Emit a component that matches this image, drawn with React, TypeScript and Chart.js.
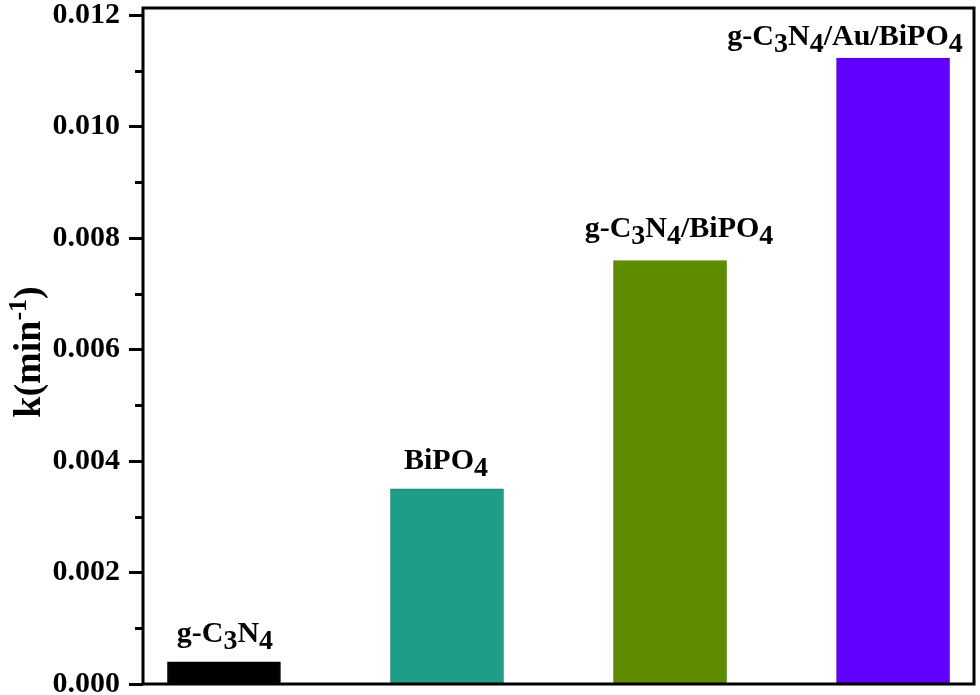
import React, { useEffect, useRef } from "react";
import { Chart, registerables } from "chart.js";

Chart.register(...registerables);

const categories = ["g-C3N4", "BiPO4", "g-C3N4/BiPO4", "g-C3N4/Au/BiPO4"];
const kValues = [0.0004, 0.0035, 0.0076, 0.01123];
const barPositions = [1, 2, 3, 4];
const yTickValues = [0, 0.002, 0.004, 0.006, 0.008, 0.01, 0.012];
const yMinorValues = [0.001, 0.003, 0.005, 0.007, 0.009, 0.011];
const yTitleMain = "k(min";
const yTitleSup = "-1";
const yTitleEnd = ")";

const barColors = ["#000000", "#1e9e86", "#5e8b00", "#6000ff"];
const barBorders = ["#000000", "#17806c", "#4f7500", "#4d00cc"];
const labelDx = [1, -1, 9, -48];
const labelDy = [20, 20, 23, 13];

const FONT = "'Liberation Serif', 'Times New Roman', serif";

function parseFormula(s: string) {
  const segs: { t: string; sub: boolean }[] = [];
  for (const ch of s) {
    const sub = /[0-9]/.test(ch);
    const last = segs[segs.length - 1];
    if (last && last.sub === sub) last.t += ch;
    else segs.push({ t: ch, sub });
  }
  return segs;
}

const decorPlugin = {
  id: "decor",
  afterDraw(chart: any) {
    const ctx = chart.ctx;
    const ca = chart.chartArea;
    const y = chart.scales.y;
    ctx.save();
    // frame
    ctx.strokeStyle = "#000";
    ctx.lineWidth = 3;
    ctx.strokeRect(ca.left, ca.top, ca.right - ca.left, ca.bottom - ca.top);
    // minor ticks
    for (const v of yMinorValues) {
      const py = Math.round(y.getPixelForValue(v)) + 0.5;
      ctx.beginPath();
      ctx.moveTo(ca.left - 8, py);
      ctx.lineTo(ca.left, py);
      ctx.stroke();
    }
    // bar labels
    const meta = chart.getDatasetMeta(0);
    const mainSize = 30;
    const subSize = 28;
    ctx.fillStyle = "#000";
    ctx.textBaseline = "alphabetic";
    ctx.textAlign = "left";
    meta.data.forEach((bar: any, i: number) => {
      const segs = parseFormula(categories[i]);
      let total = 0;
      const widths = segs.map((s) => {
        ctx.font = `bold ${s.sub ? subSize : mainSize}px ${FONT}`;
        const w = ctx.measureText(s.t).width;
        total += w;
        return w;
      });
      let x = bar.x + labelDx[i] - total / 2;
      const base = bar.y - labelDy[i];
      segs.forEach((s, j) => {
        ctx.font = `bold ${s.sub ? subSize : mainSize}px ${FONT}`;
        ctx.fillText(s.t, x, s.sub ? base + 7 : base);
        x += widths[j];
      });
    });
    // y title
    ctx.translate(40, 352);
    ctx.rotate(-Math.PI / 2);
    const mSize = 38;
    const sSize = 26;
    ctx.font = `bold ${mSize}px ${FONT}`;
    const w1 = ctx.measureText(yTitleMain).width;
    const w3 = ctx.measureText(yTitleEnd).width;
    ctx.font = `bold ${sSize}px ${FONT}`;
    const w2 = ctx.measureText(yTitleSup).width;
    let tx = -(w1 + w2 + w3) / 2;
    ctx.font = `bold ${mSize}px ${FONT}`;
    ctx.fillText(yTitleMain, tx, 0);
    tx += w1;
    ctx.font = `bold ${sSize}px ${FONT}`;
    ctx.fillText(yTitleSup, tx, -14);
    tx += w2;
    ctx.font = `bold ${mSize}px ${FONT}`;
    ctx.fillText(yTitleEnd, tx, 0);
    ctx.restore();
  },
};

export default function App() {
  const ref = useRef<HTMLCanvasElement | null>(null);
  useEffect(() => {
    document.body.style.margin = "0";
    const canvas = ref.current;
    if (!canvas) return;
    const chart = new Chart(canvas, {
      type: "bar",
      data: {
        datasets: [
          {
            data: barPositions.map((x, i) => ({ x, y: kValues[i] })),
            backgroundColor: barColors,
            borderColor: barBorders,
            borderWidth: 1,
            barThickness: 113,
          } as any,
        ],
      },
      plugins: [decorPlugin],
      options: {
        animation: false,
        responsive: false,
        devicePixelRatio: 1,
        layout: { padding: { top: 8, right: 6, bottom: 11, left: 0 } },
        plugins: { legend: { display: false }, tooltip: { enabled: false } },
        scales: {
          x: {
            type: "linear",
            min: 0.637,
            max: 4.363,
            offset: false,
            display: false,
          },
          y: {
            type: "linear",
            min: 0,
            max: 0.01213,
            afterFit: (scale: any) => {
              scale.width = 143;
              scale.paddingTop = 0;
              scale.paddingBottom = 0;
            },
            afterBuildTicks: (scale: any) => {
              scale.ticks = yTickValues.map((v) => ({ value: v }));
            },
            border: { display: false },
            grid: {
              drawOnChartArea: false,
              drawTicks: true,
              tickLength: 14,
              tickWidth: 3,
              tickColor: "#000",
            },
            ticks: {
              padding: 9,
              color: "#000",
              font: { family: FONT, weight: "bold", size: 30 },
              callback: (v: any) => Number(v).toFixed(3),
            },
          },
        },
      } as any,
    });
    return () => chart.destroy();
  }, []);
  return (
    <div style={{ position: "absolute", left: 0, top: 0, width: 980, height: 695, background: "#fff" }}>
      <canvas ref={ref} width={980} height={695} />
    </div>
  );
}
